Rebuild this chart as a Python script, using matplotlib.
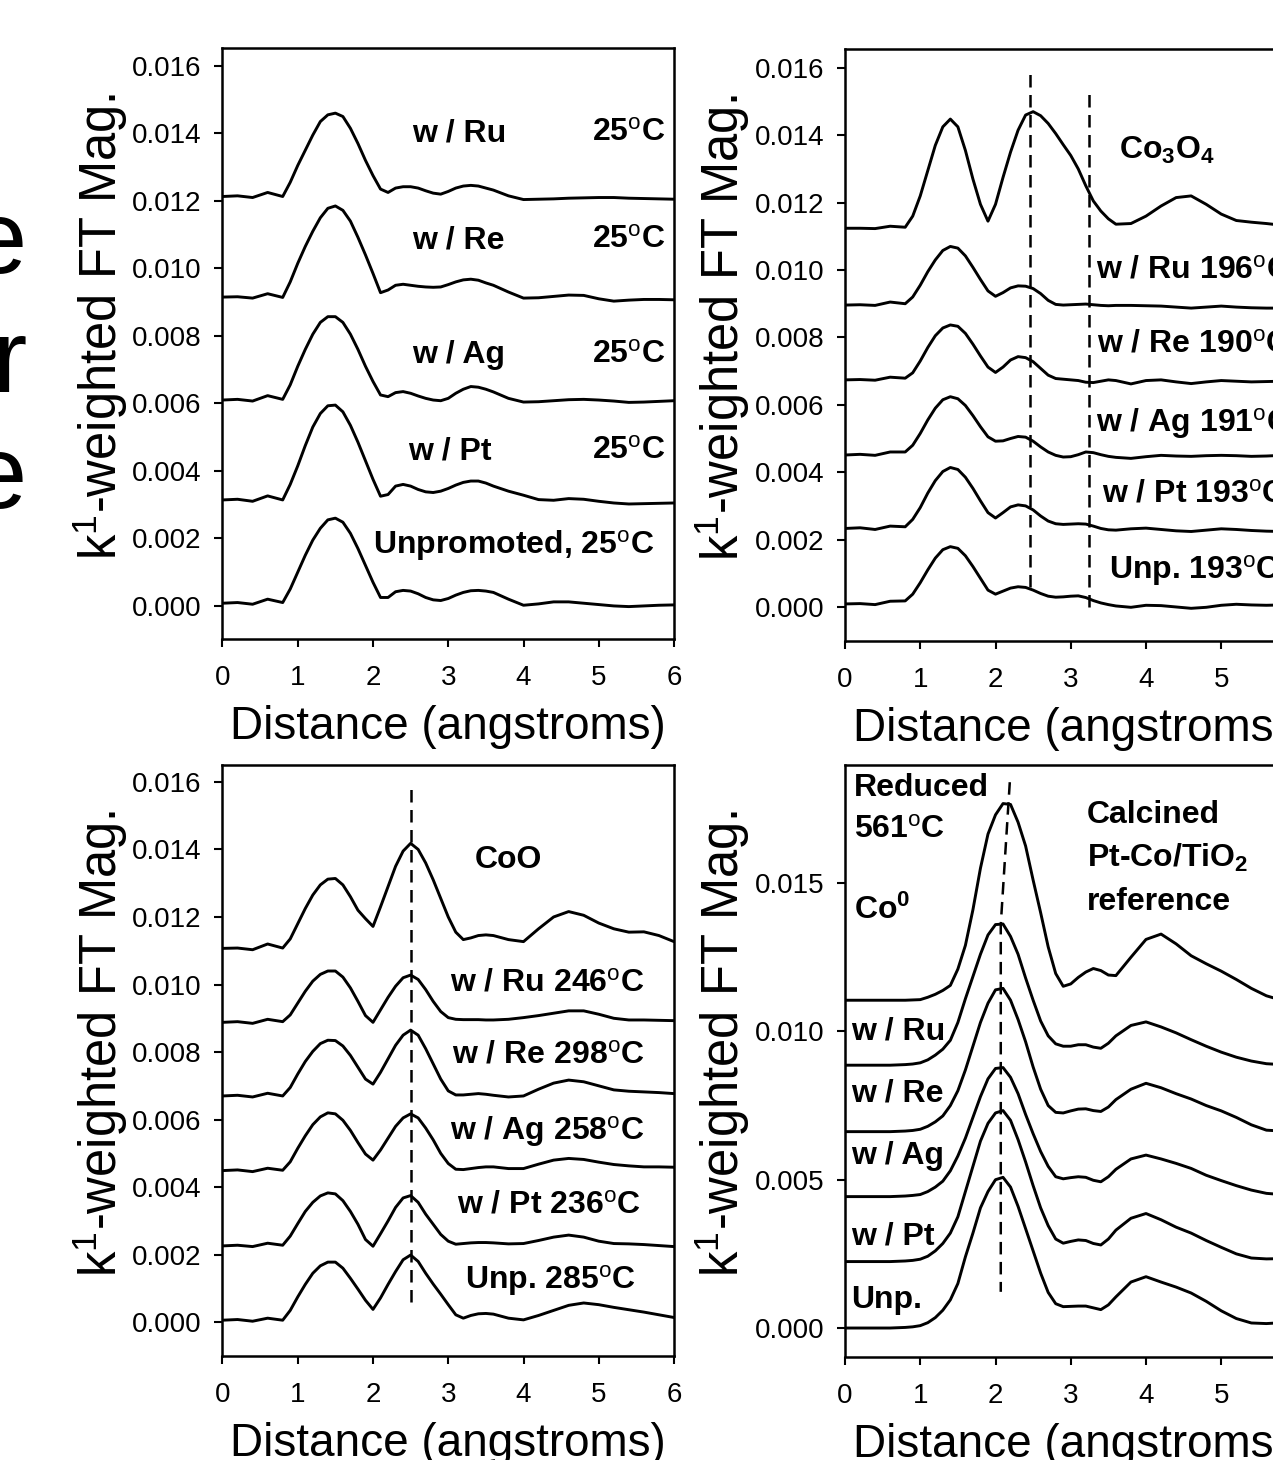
import numpy as np
import matplotlib
matplotlib.use("Agg")
import matplotlib.pyplot as plt
from matplotlib.ticker import FormatStrFormatter

plt.rcParams['font.family'] = ['Liberation Sans', 'DejaVu Sans']
plt.rcParams['mathtext.fontset'] = 'custom'
plt.rcParams['mathtext.rm'] = 'Liberation Sans'
plt.rcParams['mathtext.bf'] = 'Liberation Sans:bold'
plt.rcParams['mathtext.it'] = 'Liberation Sans:italic'

# distance grid (angstroms), shared by all curves
distance = [0, 0.2, 0.4, 0.6, 0.8,
            0.9, 1.0, 1.1, 1.2, 1.3, 1.4, 1.5, 1.6, 1.7, 1.8,
            1.9, 2.0, 2.1, 2.2, 2.3, 2.4, 2.5, 2.6, 2.7, 2.8,
            2.9, 3.0, 3.1, 3.2, 3.3, 3.4, 3.5, 3.6,
            3.8, 4.0, 4.2, 4.4, 4.6, 4.8, 5.0, 5.2, 5.4, 5.6, 5.8, 6.0]

# FT magnitudes in units of 1e-3 (curves already offset as in the figure)
# --- 25 C, fresh catalysts
rt_ru = [12.13, 12.15, 12.10, 12.25, 12.13,
         12.55, 13.05, 13.50, 13.95, 14.35, 14.55, 14.60, 14.50, 14.15, 13.70,
         13.20, 12.75, 12.35, 12.25, 12.38, 12.42, 12.42, 12.38, 12.30, 12.23,
         12.20, 12.28, 12.38, 12.44, 12.46, 12.44, 12.38, 12.32,
         12.15, 12.04, 12.05, 12.06, 12.08, 12.09, 12.10, 12.10, 12.08, 12.07, 12.06, 12.05]
rt_re = [9.15, 9.16, 9.12, 9.25, 9.14,
         9.60, 10.15, 10.65, 11.10, 11.50, 11.78, 11.85, 11.72, 11.40, 10.92,
         10.40, 9.85, 9.28, 9.36, 9.50, 9.53, 9.50, 9.47, 9.45, 9.44,
         9.45, 9.52, 9.60, 9.66, 9.68, 9.65, 9.57, 9.50,
         9.30, 9.12, 9.13, 9.17, 9.21, 9.20, 9.10, 9.03, 9.06, 9.08, 9.08, 9.07]
rt_ag = [6.10, 6.12, 6.07, 6.23, 6.12,
         6.55, 7.10, 7.60, 8.05, 8.40, 8.57, 8.57, 8.40, 8.05, 7.60,
         7.10, 6.65, 6.25, 6.20, 6.32, 6.35, 6.30, 6.22, 6.15, 6.10,
         6.08, 6.15, 6.30, 6.42, 6.50, 6.48, 6.42, 6.34,
         6.15, 6.04, 6.05, 6.08, 6.11, 6.12, 6.10, 6.07, 6.03, 6.04, 6.06, 6.08]
rt_pt = [3.14, 3.16, 3.10, 3.26, 3.14,
         3.60, 4.15, 4.75, 5.30, 5.70, 5.93, 5.95, 5.75, 5.35, 4.85,
         4.30, 3.75, 3.25, 3.30, 3.55, 3.60, 3.55, 3.45, 3.38, 3.36,
         3.40, 3.48, 3.58, 3.66, 3.70, 3.70, 3.64, 3.55,
         3.40, 3.28, 3.15, 3.13, 3.18, 3.16, 3.10, 3.05, 3.02, 3.03, 3.04, 3.05]
rt_unp = [0.08, 0.10, 0.05, 0.20, 0.10,
          0.50, 1.00, 1.50, 1.95, 2.30, 2.55, 2.60, 2.48, 2.15, 1.70,
          1.20, 0.70, 0.25, 0.25, 0.42, 0.46, 0.44, 0.36, 0.25, 0.18,
          0.16, 0.22, 0.32, 0.40, 0.45, 0.46, 0.44, 0.40,
          0.20, 0.02, 0.06, 0.12, 0.12, 0.08, 0.04, 0.00, -0.02, 0.00, 0.02, 0.03]

# --- Co3O4 stage
co3o4_ref = [11.24, 11.24, 11.23, 11.30, 11.27,
             11.60, 12.20, 12.95, 13.70, 14.25, 14.48, 14.25, 13.55, 12.70, 11.95,
             11.45, 11.95, 12.75, 13.50, 14.15, 14.60, 14.70, 14.58, 14.35, 14.05,
             13.72, 13.40, 13.00, 12.50, 12.05, 11.75, 11.52, 11.36,
             11.38, 11.60, 11.90, 12.15, 12.20, 11.95, 11.66, 11.47, 11.42, 11.38, 11.33, 11.30]
s1_ru = [8.96, 8.97, 8.95, 9.05, 9.00,
         9.20, 9.55, 9.95, 10.30, 10.58, 10.70, 10.65, 10.42, 10.08, 9.72,
         9.38, 9.22, 9.33, 9.47, 9.53, 9.52, 9.45, 9.30, 9.10, 8.98,
         8.96, 8.97, 8.98, 8.99, 8.97, 8.95, 8.94, 8.95,
         8.95, 8.94, 8.93, 8.90, 8.87, 8.90, 8.93, 8.90, 8.88, 8.87, 8.87, 8.87]
s1_re = [6.74, 6.75, 6.73, 6.82, 6.79,
         6.95, 7.30, 7.70, 8.05, 8.28, 8.37, 8.33, 8.12, 7.80, 7.45,
         7.12, 6.96, 7.12, 7.33, 7.43, 7.40, 7.28, 7.08, 6.88, 6.78,
         6.76, 6.74, 6.72, 6.67, 6.66, 6.70, 6.74, 6.72,
         6.62, 6.72, 6.74, 6.68, 6.63, 6.68, 6.72, 6.70, 6.68, 6.69, 6.70, 6.70]
s1_ag = [4.51, 4.53, 4.50, 4.60, 4.60,
         4.80, 5.15, 5.55, 5.90, 6.15, 6.24, 6.18, 5.98, 5.68, 5.35,
         5.05, 4.92, 4.93, 5.00, 5.06, 5.04, 4.92, 4.75, 4.60, 4.50,
         4.45, 4.46, 4.52, 4.60, 4.58, 4.52, 4.47, 4.44,
         4.41, 4.46, 4.50, 4.48, 4.47, 4.49, 4.50, 4.49, 4.47, 4.48, 4.50, 4.50]
s1_pt = [2.33, 2.35, 2.30, 2.40, 2.38,
         2.60, 2.95, 3.38, 3.75, 4.02, 4.14, 4.08, 3.85, 3.52, 3.15,
         2.80, 2.64, 2.80, 2.97, 3.03, 3.00, 2.88, 2.70, 2.55, 2.47,
         2.45, 2.46, 2.47, 2.46, 2.40, 2.33, 2.29, 2.28,
         2.32, 2.34, 2.30, 2.26, 2.24, 2.28, 2.32, 2.30, 2.27, 2.25, 2.24, 2.24]
s1_unp = [0.09, 0.10, 0.07, 0.17, 0.18,
          0.38, 0.72, 1.10, 1.45, 1.70, 1.79, 1.74, 1.52, 1.20, 0.85,
          0.50, 0.38, 0.47, 0.56, 0.60, 0.58, 0.50, 0.40, 0.32, 0.29,
          0.30, 0.32, 0.33, 0.28, 0.19, 0.12, 0.07, 0.03,
          -0.01, 0.05, 0.04, 0.00, -0.04, -0.01, 0.05, 0.08, 0.06, 0.05, 0.06, 0.07]

# --- CoO stage
coo_ref = [11.07, 11.08, 11.03, 11.20, 11.08,
           11.35, 11.80, 12.25, 12.65, 12.95, 13.12, 13.14, 12.95, 12.60, 12.20,
           11.95, 11.72, 12.30, 12.90, 13.50, 13.95, 14.18, 14.00, 13.60, 13.10,
           12.55, 12.00, 11.55, 11.33, 11.38, 11.45, 11.47, 11.45,
           11.33, 11.27, 11.65, 12.00, 12.16, 12.05, 11.82, 11.65, 11.55, 11.56, 11.45, 11.27]
s2_ru = [8.88, 8.90, 8.85, 8.97, 8.90,
         9.10, 9.45, 9.80, 10.10, 10.30, 10.40, 10.40, 10.22, 9.90, 9.50,
         9.08, 8.88, 9.25, 9.62, 9.95, 10.20, 10.28, 10.15, 9.85, 9.50,
         9.20, 9.02, 8.97, 8.96, 8.96, 8.96, 8.95, 8.95,
         8.97, 9.02, 9.08, 9.15, 9.22, 9.22, 9.12, 9.00, 8.95, 8.95, 8.94, 8.93]
s2_re = [6.70, 6.72, 6.67, 6.78, 6.70,
         6.95, 7.35, 7.72, 8.02, 8.25, 8.35, 8.34, 8.18, 7.90, 7.55,
         7.20, 7.05, 7.40, 7.80, 8.20, 8.50, 8.65, 8.50, 8.10, 7.65,
         7.20, 6.85, 6.73, 6.73, 6.75, 6.77, 6.75, 6.72,
         6.67, 6.70, 6.90, 7.08, 7.17, 7.12, 7.00, 6.88, 6.84, 6.82, 6.80, 6.77]
s2_ag = [4.49, 4.51, 4.46, 4.56, 4.50,
         4.75, 5.15, 5.52, 5.85, 6.08, 6.20, 6.17, 5.98, 5.68, 5.32,
         4.98, 4.80, 5.10, 5.45, 5.80, 6.05, 6.17, 6.05, 5.75, 5.40,
         5.00, 4.70, 4.53, 4.52, 4.55, 4.58, 4.60, 4.60,
         4.55, 4.55, 4.68, 4.80, 4.85, 4.82, 4.74, 4.67, 4.63, 4.60, 4.60, 4.59]
s2_pt = [2.26, 2.28, 2.24, 2.34, 2.28,
         2.55, 2.92, 3.28, 3.55, 3.74, 3.83, 3.80, 3.60, 3.28, 2.90,
         2.45, 2.25, 2.62, 3.00, 3.40, 3.68, 3.75, 3.55, 3.20, 2.90,
         2.60, 2.40, 2.31, 2.33, 2.35, 2.36, 2.36, 2.35,
         2.32, 2.33, 2.42, 2.52, 2.58, 2.52, 2.40, 2.33, 2.32, 2.30, 2.27, 2.24]
s2_unp = [0.06, 0.08, 0.03, 0.12, 0.06,
          0.35, 0.75, 1.12, 1.45, 1.67, 1.78, 1.78, 1.60, 1.30, 0.98,
          0.65, 0.38, 0.72, 1.12, 1.50, 1.85, 1.99, 1.80, 1.45, 1.13,
          0.83, 0.52, 0.22, 0.12, 0.20, 0.25, 0.26, 0.24,
          0.12, 0.07, 0.20, 0.35, 0.50, 0.57, 0.52, 0.44, 0.37, 0.30, 0.22, 0.14]

# --- reduced (Co0) stage
co_ref = [11.05, 11.05, 11.05, 11.05, 11.05,
          11.06, 11.07, 11.15, 11.25, 11.38, 11.55, 12.10, 12.90, 14.10, 15.50,
          16.65, 17.30, 17.68, 17.65, 17.05, 16.25, 15.10, 14.00, 12.85, 11.95,
          11.52, 11.60, 11.82, 12.00, 12.12, 12.05, 11.90, 11.88,
          12.50, 13.10, 13.28, 12.95, 12.55, 12.28, 12.03, 11.75, 11.45, 11.20, 11.05, 10.95]
s3_ru = [8.86, 8.86, 8.86, 8.86, 8.88,
         8.90, 8.94, 9.04, 9.20, 9.40, 9.70, 10.30, 11.10, 11.85, 12.60,
         13.25, 13.60, 13.62, 13.20, 12.60, 11.80, 11.05, 10.35, 9.85, 9.58,
         9.50, 9.50, 9.55, 9.55, 9.47, 9.43, 9.60, 9.85,
         10.20, 10.32, 10.15, 9.95, 9.72, 9.50, 9.30, 9.13, 9.00, 8.91, 8.88, 8.87]
s3_re = [6.62, 6.62, 6.62, 6.62, 6.64,
         6.66, 6.70, 6.80, 6.95, 7.15, 7.50, 8.00, 8.70, 9.50, 10.30,
         10.95, 11.40, 11.45, 11.05, 10.40, 9.65, 8.80, 8.05, 7.50, 7.27,
         7.25, 7.32, 7.38, 7.39, 7.33, 7.30, 7.45, 7.70,
         8.05, 8.25, 8.10, 7.90, 7.72, 7.50, 7.32, 7.10, 6.85, 6.67, 6.64, 6.63]
s3_ag = [4.43, 4.43, 4.43, 4.43, 4.45,
         4.47, 4.50, 4.60, 4.75, 4.95, 5.30, 5.80, 6.40, 7.10, 7.80,
         8.40, 8.75, 8.78, 8.45, 7.90, 7.20, 6.55, 5.95, 5.45, 5.10,
         5.03, 5.07, 5.10, 5.08, 4.98, 4.93, 5.10, 5.35,
         5.70, 5.83, 5.70, 5.55, 5.38, 5.15, 4.97, 4.80, 4.65, 4.54, 4.50, 4.48]
s3_pt = [2.24, 2.24, 2.24, 2.24, 2.26,
         2.28, 2.32, 2.42, 2.60, 2.85, 3.20, 3.75, 4.60, 5.45, 6.30,
         6.90, 7.25, 7.33, 7.00, 6.35, 5.60, 4.80, 4.05, 3.45, 3.00,
         2.86, 2.92, 2.97, 2.95, 2.85, 2.80, 3.00, 3.30,
         3.70, 3.86, 3.65, 3.40, 3.20, 2.95, 2.72, 2.50, 2.36, 2.33, 2.34, 2.35]
s3_unp = [0.00, 0.00, 0.00, 0.00, 0.02,
          0.04, 0.08, 0.18, 0.35, 0.60, 0.95, 1.50, 2.40, 3.20, 4.05,
          4.60, 5.00, 5.08, 4.75, 4.10, 3.35, 2.60, 1.85, 1.20, 0.82,
          0.72, 0.73, 0.74, 0.74, 0.68, 0.62, 0.78, 1.05,
          1.55, 1.73, 1.55, 1.38, 1.18, 0.90, 0.58, 0.32, 0.17, 0.15, 0.18, 0.20]

SCALE = 1e-3
LW = 2.1

W, H = 1273, 1460
fig = plt.figure(figsize=(W / 100, H / 100), dpi=100)


def px_axes(left, top, right, bottom):
    return fig.add_axes([left / W, 1 - bottom / H, (right - left) / W, (bottom - top) / H])


def style_axes(ax, ylim, yticks):
    ax.set_xlim(0, 6)
    ax.set_ylim(ylim[0] * SCALE, ylim[1] * SCALE)
    ax.set_xticks(range(0, 7))
    ax.set_yticks([t * SCALE for t in yticks])
    ax.yaxis.set_major_formatter(FormatStrFormatter('%.3f'))
    for sp in ax.spines.values():
        sp.set_linewidth(1.8)
    ax.tick_params(axis='both', direction='out', length=6, width=1.5,
                   top=False, right=False, labelsize=20)
    ax.tick_params(axis='x', pad=13)
    ax.tick_params(axis='y', pad=9)
    ax.set_xlabel('Distance (angstroms)', fontsize=33)
    ax.xaxis.set_label_coords(0.5, -0.112)
    ax.set_ylabel(r'k$^{\rm 1}$-weighted FT Mag.', fontsize=36.5)
    ax.yaxis.set_label_coords(-0.205, 0.53)


def draw(ax, curves):
    for c in curves:
        ax.plot(distance, np.array(c) * SCALE, color='black', lw=LW,
                solid_joinstyle='round', solid_capstyle='round')


def label(ax, x, y, s, ha='left', size=23):
    ax.text(x, y * SCALE, s, ha=ha, va='center', fontsize=size, fontweight='bold', clip_on=False)


deg = r'$^{\rm o}$'
dash = (0, (5, 3))

# top left: 25 C
ax1 = px_axes(222.5, 48, 674, 639)
style_axes(ax1, (-0.98, 16.53), range(0, 17, 2))
draw(ax1, [rt_ru, rt_re, rt_ag, rt_pt, rt_unp])
for yv, name in [(14.0, 'w / Ru'), (10.84, 'w / Re'), (7.44, 'w / Ag'), (4.59, 'w / Pt')]:
    label(ax1, 3.14 if name != 'w / Pt' else 3.02, yv, name, ha='center')
    label(ax1, 5.88, yv, '25' + deg + 'C', ha='right')
label(ax1, 3.87, 1.78, 'Unpromoted, 25' + deg + 'C', ha='center')

# top right: Co3O4 stage
ax2 = px_axes(845, 49, 1296.5, 641)
style_axes(ax2, (-1.01, 16.56), range(0, 17, 2))
draw(ax2, [co3o4_ref, s1_ru, s1_re, s1_ag, s1_pt, s1_unp])
ax2.plot([2.46, 2.46], [0.6 * SCALE, 16.0 * SCALE], color='black', lw=1.8, ls=dash)
ax2.plot([3.24, 3.24], [0.0, 15.35 * SCALE], color='black', lw=1.8, ls=dash)
label(ax2, 3.64, 13.56, r'Co$_{\mathbf{3}}$O$_{\mathbf{4}}$')
for xv, yv, s in [(3.34, 10.0, 'w / Ru 196'), (3.35, 7.78, 'w / Re 190'),
                  (3.34, 5.46, 'w / Ag 191'), (3.42, 3.35, 'w / Pt 193'),
                  (3.51, 1.07, 'Unp. 193')]:
    label(ax2, xv, yv, s + deg + 'C')

# bottom left: CoO stage
ax3 = px_axes(222.5, 765, 674, 1356)
style_axes(ax3, (-1.0, 16.5), range(0, 17, 2))
draw(ax3, [coo_ref, s2_ru, s2_re, s2_ag, s2_pt, s2_unp])
ax3.plot([2.51, 2.51], [0.6 * SCALE, 15.96 * SCALE], color='black', lw=1.8, ls=dash)
label(ax3, 3.8, 13.69, 'CoO', ha='center')
for xv, yv, s in [(4.32, 10.04, 'w / Ru 246'), (4.33, 7.91, 'w / Re 298'),
                  (4.31, 5.66, 'w / Ag 258'), (4.34, 3.47, 'w / Pt 236'),
                  (4.36, 1.24, 'Unp. 285')]:
    label(ax3, xv, yv, s + deg + 'C', ha='center')

# bottom right: reduced stage
ax4 = px_axes(845, 765, 1296.5, 1356.5)
style_axes(ax4, (-0.96, 18.98), [0, 5, 10, 15])
draw(ax4, [co_ref, s3_ru, s3_re, s3_ag, s3_pt, s3_unp])
ax4.plot([2.19, 2.07, 2.07], [18.4 * SCALE, 13.6 * SCALE, 1.22 * SCALE],
         color='black', lw=1.8, ls=dash)
label(ax4, 0.12, 18.2, 'Reduced')
label(ax4, 0.12, 16.78, '561' + deg + 'C')
label(ax4, 0.12, 14.09, r'Co$^{\mathbf{0}}$')
label(ax4, 3.21, 17.29, 'Calcined')
label(ax4, 3.21, 15.84, r'Pt-Co/TiO$_{\mathbf{2}}$')
label(ax4, 3.21, 14.36, 'reference')
for yv, s in [(9.98, 'w / Ru'), (7.89, 'w / Re'), (5.80, 'w / Ag'), (3.10, 'w / Pt'), (0.94, 'Unp.')]:
    label(ax4, 0.08, yv, s)

# cropped letters of a neighbouring slide title on the far left
for yb, ch in [(273, 'e'), (392, 'r'), (508, 'e')]:
    fig.text(27 / W, 1 - yb / H, ch, ha='right', va='baseline', fontsize=74)

fig.savefig('out.png', dpi=100)
